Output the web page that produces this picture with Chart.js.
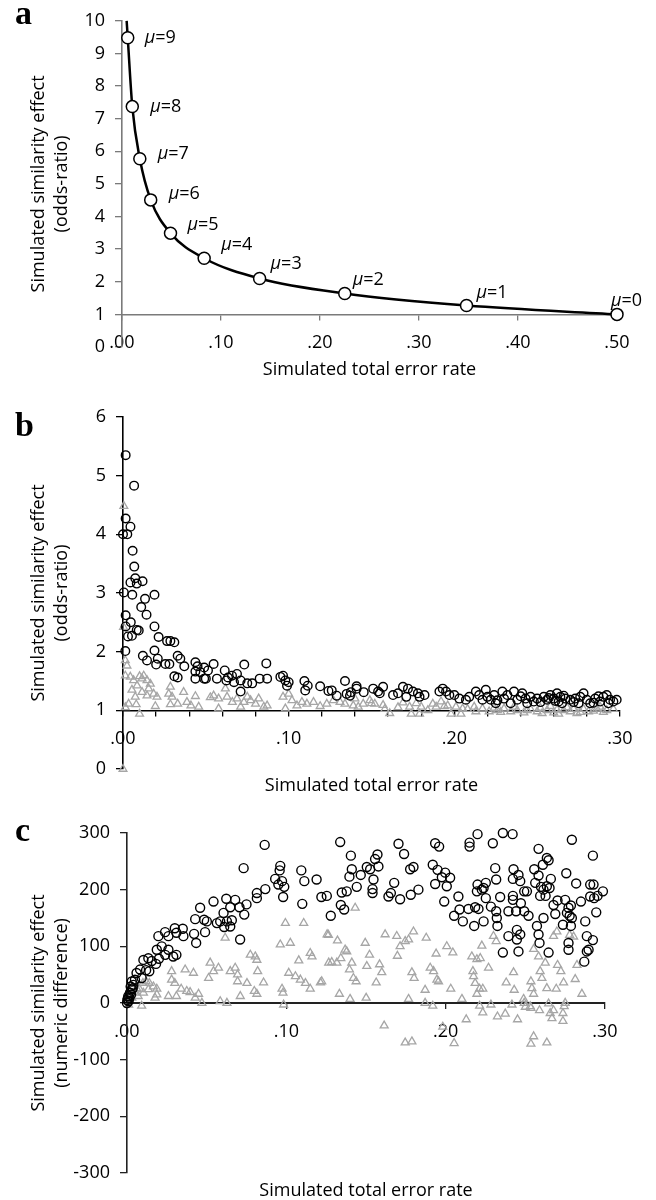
<!DOCTYPE html>
<html><head><meta charset="utf-8">
<script src="https://cdn.jsdelivr.net/npm/chart.js@4.4.1/dist/chart.umd.min.js"></script>
<style>
html,body{margin:0;padding:0;background:#fff;}
#wrap{position:relative;width:656px;height:1200px;overflow:hidden;background:#fff;}
canvas{position:absolute;left:0;}
.pl{position:absolute;left:15px;font-family:"Liberation Serif","DejaVu Serif",serif;font-weight:bold;font-size:34px;line-height:34px;z-index:5;}
</style></head><body>
<div id="wrap">
<canvas id="ca" width="656" height="390" style="top:0px"></canvas>
<canvas id="cb" width="656" height="410" style="top:390px"></canvas>
<canvas id="cc" width="656" height="400" style="top:800px"></canvas>
<div class="pl" style="top:-4px">a</div>
<div class="pl" style="top:408px">b</div>
<div class="pl" style="top:813px">c</div>
</div>
<script>
// ---------------- DATA ----------------
// Panel a: theoretical curve, one point per mu
const panelA_mu = [0,1,2,3,4,5,6,7,8,9];
const panelA_errorRate = [0.500,0.348,0.225,0.139,0.083,0.049,0.029,0.018,0.0104,0.0058];
const panelA_oddsRatio = [1.00,1.27,1.64,2.10,2.72,3.49,4.51,5.77,7.37,9.48];
const panelA_curveTop = [0.0047, 10.0];
const panelA_xTicks = [0,0.1,0.2,0.3,0.4,0.5];
const panelA_xTickLabels = ['.00','.10','.20','.30','.40','.50'];
const panelA_yTicks = [0,1,2,3,4,5,6,7,8,9,10];

// Panel b: odds-ratio simulations
const panelB_circles = [
[0.0016,5.35],[0.0067,4.83],[0.0016,4.27],[0.0045,4.13],[0.0000,4.00],[0.0026,4.00],[0.0058,3.72],[0.0068,3.45],[0.0074,3.25],[0.0045,3.18],[0.0083,3.16],[0.0118,3.20],[0.0005,3.01],[0.0056,2.97],[0.019,2.97],[0.0133,2.90],[0.011,2.76],[0.0142,2.63],[0.0016,2.62],[0.0047,2.50],[0.0016,2.43],[0.019,2.43],[0.0083,2.37],
[0.0095,2.36],[0.0054,2.27],[0.003,2.26],[0.0215,2.25],[0.0266,2.18],[0.0286,2.18],[0.031,2.16],[0.0014,2.01],[0.012,1.93],[0.0145,1.85],[0.019,2.02],[0.021,1.88],[0.020,1.78],[0.0256,1.79],[0.028,1.79],[0.033,1.93],[0.0346,1.88],[0.031,1.58],[0.033,1.56],[0.037,1.75],[0.0437,1.82],[0.045,1.75],[0.0437,1.66],[0.049,1.73],[0.0513,1.68],[0.0547,1.79],[0.0467,1.65],[0.049,1.54],[0.0437,1.54],[0.050,1.54],[0.0567,1.54],[0.0614,1.68],[0.0634,1.56],[0.0624,1.51],[0.0658,1.59],[0.0688,1.62],[0.067,1.48],[0.071,1.51],[0.0732,1.78],[0.071,1.32],[0.075,1.46],[0.078,1.46],[0.0825,1.54],[0.0865,1.80],[0.087,1.54],[0.095,1.57],[0.0966,1.59],[0.098,1.51],[0.099,1.42],[0.100,1.48],[0.1095,1.50],[0.1115,1.42],[0.110,1.34],[0.119,1.41],[0.124,1.33],[0.126,1.34],[0.129,1.25],[0.134,1.50],[0.135,1.28],[0.137,1.25],[0.1376,1.31],[0.141,1.41],[0.141,1.37],[0.1453,1.31],
[0.151,1.37],[0.154,1.32],[0.157,1.40],[0.155,1.29],[0.163,1.26],[0.166,1.29],[0.169,1.40],[0.172,1.37],[0.171,1.23],[0.175,1.32],[0.178,1.29],[0.179,1.23],[0.182,1.26],[0.191,1.32],[0.193,1.37],[0.195,1.32],[0.197,1.26],[0.200,1.26],[0.203,1.20],[0.207,1.18],[0.209,1.23],[0.213,1.32],[0.215,1.26],[0.217,1.18],[0.219,1.35],[0.220,1.23],[0.222,1.18],[0.224,1.26],[0.225,1.12],[0.229,1.32],[0.230,1.20],[0.232,1.26],[0.234,1.12],[0.236,1.32],[0.238,1.18],[0.241,1.29],[0.243,1.20],[0.244,1.12],[0.246,1.23],[0.248,1.15],[0.250,1.20],[0.254,1.23],[0.256,1.18],[0.258,1.26],[0.260,1.20],[0.262,1.29],[0.263,1.15],[0.264,1.23],[0.265,1.12],[0.267,1.20],[0.270,1.18],[0.273,1.20],[0.275,1.12],[0.276,1.23],[0.278,1.29],[0.280,1.18],[0.282,1.12],[0.285,1.20],[0.288,1.15],[0.290,1.23],[0.292,1.26],[0.294,1.18],[0.296,1.15],[0.298,1.18],
[0.226,1.17],[0.240,1.24],[0.252,1.14],[0.257,1.21],[0.261,1.16],[0.266,1.25],[0.272,1.14],[0.284,1.13],[0.287,1.24],[0.293,1.12]
];
const panelB_triangles = [
[0.0005,4.48],[0.0003,2.42],[0.0014,1.85],[0.0024,1.76],[0.0014,1.59],[0.0044,1.57],[0.0064,1.51],[0.010,1.58],[0.0115,1.54],[0.0125,1.59],[0.0145,1.51],[0.0165,1.45],[0.0085,1.42],[0.0054,1.35],[0.0115,1.31],[0.0145,1.25],[0.0185,1.28],[0.0205,1.23],[0.0155,1.37],[0.0074,1.23],[0.0034,1.11],[0.008,1.10],[0.010,0.94],[0.0014,1.05],[0.0195,1.07],[0.0286,1.40],[0.0276,1.28],[0.0296,1.23],[0.0286,1.10],[0.033,1.11],[0.0366,1.31],[0.0386,1.14],[0.041,1.08],[0.0437,1.24],[0.0457,1.06],[0.0527,1.22],[0.0547,1.25],[0.0577,1.20],[0.0577,1.03],[0.0618,1.37],[0.0628,1.23],[0.066,1.14],[0.0688,1.20],[0.071,1.06],[0.073,1.14],[0.075,1.23],[0.077,1.17],[0.080,1.11],[0.0819,1.20],[0.085,1.06],[0.087,1.08],[0.0966,1.23],[0.098,1.03],[0.100,1.28],[0.102,1.17],[0.105,1.08],[0.108,1.14],[0.111,1.11],[0.115,1.14],[0.119,1.07],[0.123,1.11],[0.127,1.17],[0.131,1.14],[0.134,1.11],[0.139,1.08],[0.140,1.20],[0.142,1.06],[0.145,1.11],[0.149,1.17],[0.152,1.11],[0.0,0.0],
[0.150,1.12],[0.157,1.09],[0.161,0.95],[0.169,1.13],[0.173,1.06],[0.174,0.94],[0.177,1.12],[0.179,0.94],[0.180,1.06],[0.187,1.11],[0.189,1.06],[0.192,1.15],[0.194,1.07],[0.198,0.94],[0.201,1.06],[0.204,0.94],[0.205,1.03],[0.213,0.98],[0.217,1.03],[0.221,0.98],[0.226,1.00],[0.230,1.03],[0.234,0.98],[0.238,1.00],[0.242,0.96],[0.246,1.02],[0.250,0.98],[0.253,0.95],[0.256,1.00],[0.260,0.96],[0.263,0.94],[0.266,1.00],[0.270,0.98],[0.274,0.95],[0.278,1.02],[0.281,0.98],[0.284,0.99],[0.288,1.06],[0.292,1.00],
[0.158,1.02],[0.166,1.05],[0.184,1.00],[0.196,1.08],[0.208,1.02],[0.212,1.06],[0.224,1.04],[0.228,0.97],[0.236,1.06],[0.244,1.00],[0.252,1.04],[0.258,1.07],[0.262,1.01],[0.268,1.05],[0.272,1.02],[0.276,0.97],[0.286,1.03],[0.290,0.97],[0.296,1.02]
];
const panelB_xTicks = [0,0.02,0.04,0.06,0.08,0.1,0.12,0.14,0.16,0.18,0.2,0.22,0.24,0.26,0.28,0.3];
const panelB_xTickLabels = ['.00','.10','.20','.30'];
const panelB_yTicks = [0,1,2,3,4,5,6];

// Panel c: numeric-difference simulations
const panelC_circles = [
[0.0864,279],[0.0732,238],[0.0962,242],[0.0958,234],[0.093,219],[0.0973,215],[0.0987,205],[0.095,209],[0.098,187],[0.0868,201],[0.0815,194],[0.0815,185],[0.1094,234],[0.1113,215],[0.119,218],[0.110,175],[0.122,187],[0.071,112],[0.0679,182],[0.0706,169],[0.075,174],[0.0736,156],[0.0648,169],[0.0623,184],[0.0606,159],[0.0543,179],[0.0585,144],[0.0564,141],[0.0627,144],[0.0648,135],[0.061,134],[0.0658,146],[0.049,125],[0.0459,168],[0.0484,147],[0.0428,148],[0.0421,122],[0.0434,106],[0.0501,144],[0.035,131],[0.0354,118],[0.030,132],[0.031,124],[0.026,118],[0.0239,125],[0.029,82],[0.031,85],[0.0197,118],[0.0218,100],[0.026,94],[0.024,85],[0.0187,94],[0.020,78],[0.0134,79],[0.0155,74],[0.0182,69],[0.0103,76],[0.014,56],[0.012,58],[0.0082,59],[0.006,53],[0.0092,44],[0.005,41],[0.004,32],[0.003,24],[0.0019,18],[0.0008,12],[0.0002,5],[0.0015,9],[0.0036,26],[0.0023,29],[0.003,38],[0.0,0],[0.001,3],[0.0005,8],[0.0025,15],
[0.1338,284],[0.1405,260],[0.1411,236],[0.1396,223],[0.1442,205],[0.1467,226],[0.1505,240],[0.1526,236],[0.1557,254],[0.1572,262],[0.1578,241],[0.1547,218],[0.1541,201],[0.1541,194],[0.1379,197],[0.1348,195],[0.1254,189],[0.1342,173],[0.1363,165],[0.1279,154],[0.1641,188],[0.1656,194],[0.1677,212],[0.1714,183],[0.1704,281],[0.1739,263],[0.1777,236],[0.1798,240],[0.1781,191],[0.1829,200],[0.1934,282],[0.1959,276],[0.1919,244],[0.1949,235],[0.1934,210],[0.1976,222],[0.1997,230],[0.2007,206],[0.2028,221],[0.1991,179],[0.215,283],[0.215,276],[0.220,298],[0.2296,282],[0.2359,300],[0.2420,298],[0.208,188],[0.2053,154],[0.2087,165],[0.2108,144],[0.2143,166],[0.2179,136],[0.2185,169],[0.220,209],[0.2196,197],[0.2227,200],[0.2238,203],[0.2252,212],[0.2252,185],[0.2238,144],[0.2206,166],[0.2284,170],[0.2311,238],[0.2317,218],[0.2317,162],[0.2321,150],[0.2325,136],[0.2342,187],[0.2359,89],[0.2394,118],[0.2422,189],[0.2422,182],[0.2394,162],[0.2426,236],[0.2422,219],[0.2457,226],[0.2468,215],[0.2447,129],[0.2447,112],[0.2468,121],[0.2457,91],[0.2472,176],[0.2442,162],[0.2493,197],[0.2510,197],[0.2493,162],[0.2520,154],[0.2556,236],[0.2562,212],[0.2583,272],[0.2583,225],[0.2573,136],[0.2583,121],[0.2589,106],[0.2593,189],[0.2598,205],[0.2610,244],[0.2635,256],[0.2646,252],[0.2614,200],[0.2635,206],[0.2652,203],[0.2660,219],[0.2627,189],[0.2614,150],[0.2646,89],[0.2677,173],[0.2688,157],[0.2702,181],[0.2736,138],[0.2750,182],[0.2757,229],[0.2761,159],[0.2778,154],[0.2771,168],[0.2786,172],[0.2771,106],[0.2771,94],[0.2792,288],[0.2786,136],[0.2792,150],[0.2819,211],[0.2849,179],[0.2870,73],[0.2876,144],[0.2886,118],[0.2897,94],[0.2907,188],[0.2907,209],[0.2924,260],[0.2924,111],[0.2928,209],[0.2932,185],[0.2945,160],[0.2953,189],[0.2987,197],[0.2886,91]
];
const panelC_triangles = [
[0.001,-3],[0.003,9],[0.005,18],[0.006,26],[0.008,24],[0.010,35],[0.012,38],[0.014,35],[0.0166,29],[0.0187,25],[0.0134,24],[0.0103,18],[0.007,12],[0.0092,-5],[0.0176,9],[0.0187,15],[0.026,12],[0.031,12],[0.028,56],[0.028,41],[0.030,35],[0.034,25],[0.0365,59],[0.0417,53],[0.0375,21],[0.0396,19],[0.0428,9],[0.0449,16],[0.047,0],[0.0512,44],[0.0522,71],[0.0543,56],[0.0574,62],[0.0585,3],[0.0616,115],[0.0627,0],[0.0648,56],[0.0679,62],[0.0694,50],[0.0711,12],[0.0694,38],[0.0753,35],[0.0774,85],[0.0805,82],[0.0815,76],[0.0820,56],[0.0857,36],[0.0799,21],[0.0815,16],[0.0973,25],[0.0979,18],[0.0983,-3],[0.0962,103],[0.0994,141],[0.1025,106],[0.1015,53],[0.1057,47],[0.1109,141],[0.1088,41],[0.1078,75],[0.112,35],[0.115,88],[0.1161,82],[0.115,25],[0.1214,36],[0.1256,121],[0.1266,71],
[0.1432,168],[0.1264,120],[0.1321,110],[0.1222,38],[0.1285,72],[0.1317,71],[0.1342,79],[0.1369,94],[0.1379,91],[0.1411,71],[0.1396,59],[0.1421,44],[0.1438,38],[0.1333,16],[0.1400,7],[0.1495,106],[0.1522,85],[0.1501,9],[0.1505,65],[0.1564,36],[0.1585,68],[0.1599,54],[0.1620,121],[0.1614,-40],[0.1693,118],[0.1697,83],[0.1714,100],[0.1746,109],[0.1767,112],[0.1798,126],[0.1788,54],[0.1802,44],[0.1767,7],[0.1746,-70],[0.1788,-68],[0.1878,115],[0.1871,23],[0.1871,0],[0.1903,62],[0.1924,56],[0.1940,87],[0.1945,41],[0.1955,38],[0.1919,-5],[0.2007,100],[0.2045,89],[0.2032,25],[0.1982,-42],[0.2053,-71],[0.2102,7],[0.2129,-29],[0.2164,82],[0.2175,47],[0.2171,56],[0.2185,35],[0.2196,77],[0.2217,79],[0.2227,101],[0.2213,25],[0.2233,25],[0.2196,16],[0.2213,-5],[0.2233,-17],[0.2269,62],[0.2284,-3],[0.2300,118],[0.2317,109],[0.2325,-24],[0.2374,-19],[0.2416,-3],[0.2380,36],[0.2426,54],[0.2430,23],[0.2451,-29],[0.2489,7],[0.2493,0],[0.2531,-6],[0.2535,38],[0.2541,26],[0.2552,16],[0.2552,95],[0.2583,82],[0.2593,56],[0.2604,44],[0.2625,71],[0.2635,26],[0.2646,-1],[0.2656,-18],[0.2677,-13],[0.2694,25],[0.2702,67],[0.2723,56],[0.2740,36],[0.2750,0],[0.2736,-32],[0.2813,42],[0.2824,67],[0.2855,16],[0.2698,126],[0.2778,120],[0.2803,117],[0.2677,118],[0.2552,-59],[0.2535,-72],[0.2635,-70],[0.2736,-18],
[0.2667,-27],[0.2589,-13],[0.2500,-7],[0.2535,-9],[0.2744,-6]
];
const panelC_xTicks = [0,0.1,0.2,0.3];
const panelC_xTickLabels = ['.00','.10','.20','.30'];
const panelC_yTicks = [-300,-200,-100,0,100,200,300];

// ---------------- STYLES ----------------
const FONT = '"Open Sans", "Noto Sans", sans-serif';
const muLabelOffsets = [[-6,-14],[10,-13],[8,-14],[11,-15],[17,-13],[17,-8],[18,-6],[18,-5],[18,0],[17,0]];
const GRAY_TRI = '#a6a6a6';

Chart.defaults.font.family = FONT;
Chart.defaults.color = '#000';
Chart.defaults.animation = false;

const toXY = arr => arr.map(p => ({x: p[0], y: p[1]}));
const fixTicks = vals => (s => { s.ticks = vals.map(v => ({value: v})); });
const near = (a, b) => Math.abs(a - b) < 1e-9;

function xAxis(opt) {
  return {
    type: 'linear', position: {y: opt.crossAt},
    min: opt.min, max: opt.max,
    afterBuildTicks: fixTicks(opt.ticks),
    afterFit: s => { s.height = opt.titleH; },
    ticks: {autoSkip: false, maxRotation: 0, padding: 13, font: {size: 18, family: FONT}, color: '#000',
      callback: v => { const i = Math.round(v * 10); return near(v * 10, i) ? opt.labels[i] : ''; }},
    grid: {display: true, drawOnChartArea: false, drawTicks: true, tickLength: 5, color: opt.color, lineWidth: 1.3},
    border: {display: true, color: opt.color, width: opt.width},
    title: {display: true, text: 'Simulated total error rate', font: {size: 18, family: FONT}, color: '#000', padding: 0}
  };
}
function yAxis(opt) {
  return {
    type: 'linear', position: 'left', min: opt.min, max: opt.max,
    afterBuildTicks: fixTicks(opt.ticks),
    afterFit: s => { s.width = opt.width; },
    ticks: {autoSkip: false, padding: 10, font: {size: 18, family: FONT}, color: '#000'},
    grid: {display: true, drawOnChartArea: false, drawTicks: true, tickLength: 7, color: opt.color, lineWidth: 1.3},
    border: {display: true, color: opt.color, width: 1.6},
    title: {display: true, text: opt.title, font: {size: 18, family: FONT, lineHeight: 1.3}, color: '#000', padding: {top: 27, bottom: 0}}
  };
}
const baseOpts = {
  responsive: false, devicePixelRatio: 1, events: [],
  plugins: {legend: {display: false}, tooltip: {enabled: false}}
};

// ---------------- PANEL A ----------------
const curvePts = [{x: panelA_curveTop[0], y: panelA_curveTop[1]}]
  .concat(panelA_errorRate.map((x, i) => ({x, y: panelA_oddsRatio[i]})).sort((a, b) => a.x - b.x));
const muLabelPlugin = {
  id: 'muLabels',
  afterDatasetsDraw(chart) {
    const meta = chart.getDatasetMeta(1);
    const ctx = chart.ctx;
    ctx.save();
    ctx.fillStyle = '#000';
    ctx.textBaseline = 'middle';
    ctx.textAlign = 'left';
    meta.data.forEach((pt, i) => {
      let x = pt.x + muLabelOffsets[i][0];
      const y = pt.y + muLabelOffsets[i][1];
      ctx.font = 'italic 18px ' + FONT;
      ctx.fillText('μ', x, y);
      x += ctx.measureText('μ').width;
      ctx.font = '18px ' + FONT;
      ctx.fillText('=' + panelA_mu[i], x, y);
    });
    ctx.restore();
  }
};
new Chart(document.getElementById('ca'), {
  type: 'scatter',
  data: {datasets: [
    {data: curvePts, showLine: true, cubicInterpolationMode: 'monotone', borderColor: '#000', borderWidth: 2.5, pointRadius: 0, order: 2, clip: false},
    {data: panelA_errorRate.map((x, i) => ({x, y: panelA_oddsRatio[i]})), showLine: false, pointRadius: 6, pointBorderWidth: 1.5,
     pointBorderColor: '#000', pointBackgroundColor: '#fff', order: 1, clip: false}
  ]},
  options: Object.assign({}, baseOpts, {
    layout: {padding: {top: 15, right: 39, bottom: 43, left: 0}},
    scales: {
      x: xAxis({crossAt: 1, min: 0, max: 0.5, ticks: panelA_xTicks, labels: panelA_xTickLabels, color: '#7a7a7a', width: 1.6, titleH: 66}),
      y: yAxis({min: 0, max: 10, ticks: panelA_yTicks, width: 122, color: '#7a7a7a', title: ['Simulated similarity effect', '(odds-ratio)']})
    }
  }),
  plugins: [muLabelPlugin]
});

// ---------------- PANEL B ----------------
new Chart(document.getElementById('cb'), {
  type: 'scatter',
  data: {datasets: [
    {data: toXY(panelB_circles), pointStyle: 'circle', pointRadius: 4.3, pointBorderWidth: 1.4, pointBorderColor: '#000', pointBackgroundColor: 'rgba(0,0,0,0)', order: 1, clip: false},
    {data: toXY(panelB_triangles), pointStyle: 'triangle', pointRadius: 4.5, pointBorderWidth: 1.3, pointBorderColor: GRAY_TRI, pointBackgroundColor: 'rgba(0,0,0,0)', order: 2, clip: false}
  ]},
  options: Object.assign({}, baseOpts, {
    layout: {padding: {top: 27, right: 36, bottom: 31, left: 0}},
    scales: {
      x: xAxis({crossAt: 1, min: 0, max: 0.3, ticks: panelB_xTicks, labels: panelB_xTickLabels, color: '#000', width: 1.6, titleH: 86}),
      y: yAxis({min: 0, max: 6, ticks: panelB_yTicks, width: 123, color: '#000', title: ['Simulated similarity effect', '(odds-ratio)']})
    }
  })
});

// ---------------- PANEL C ----------------
new Chart(document.getElementById('cc'), {
  type: 'scatter',
  data: {datasets: [
    {data: toXY(panelC_circles), pointStyle: 'circle', pointRadius: 4.5, pointBorderWidth: 1.4, pointBorderColor: '#000', pointBackgroundColor: 'rgba(0,0,0,0)', order: 1, clip: false},
    {data: toXY(panelC_triangles), pointStyle: 'triangle', pointRadius: 4.6, pointBorderWidth: 1.3, pointBorderColor: GRAY_TRI, pointBackgroundColor: 'rgba(0,0,0,0)', order: 2, clip: false}
  ]},
  options: Object.assign({}, baseOpts, {
    layout: {padding: {top: 33, right: 51, bottom: 27, left: 0}},
    scales: {
      x: xAxis({crossAt: 0, min: 0, max: 0.3, ticks: panelC_xTicks, labels: panelC_xTickLabels, color: '#222', width: 2, titleH: 199}),
      y: yAxis({min: -300, max: 300, ticks: panelC_yTicks, width: 127, color: '#222', title: ['Simulated similarity effect', '(numeric difference)']})
    }
  })
});
</script>
</body></html>
